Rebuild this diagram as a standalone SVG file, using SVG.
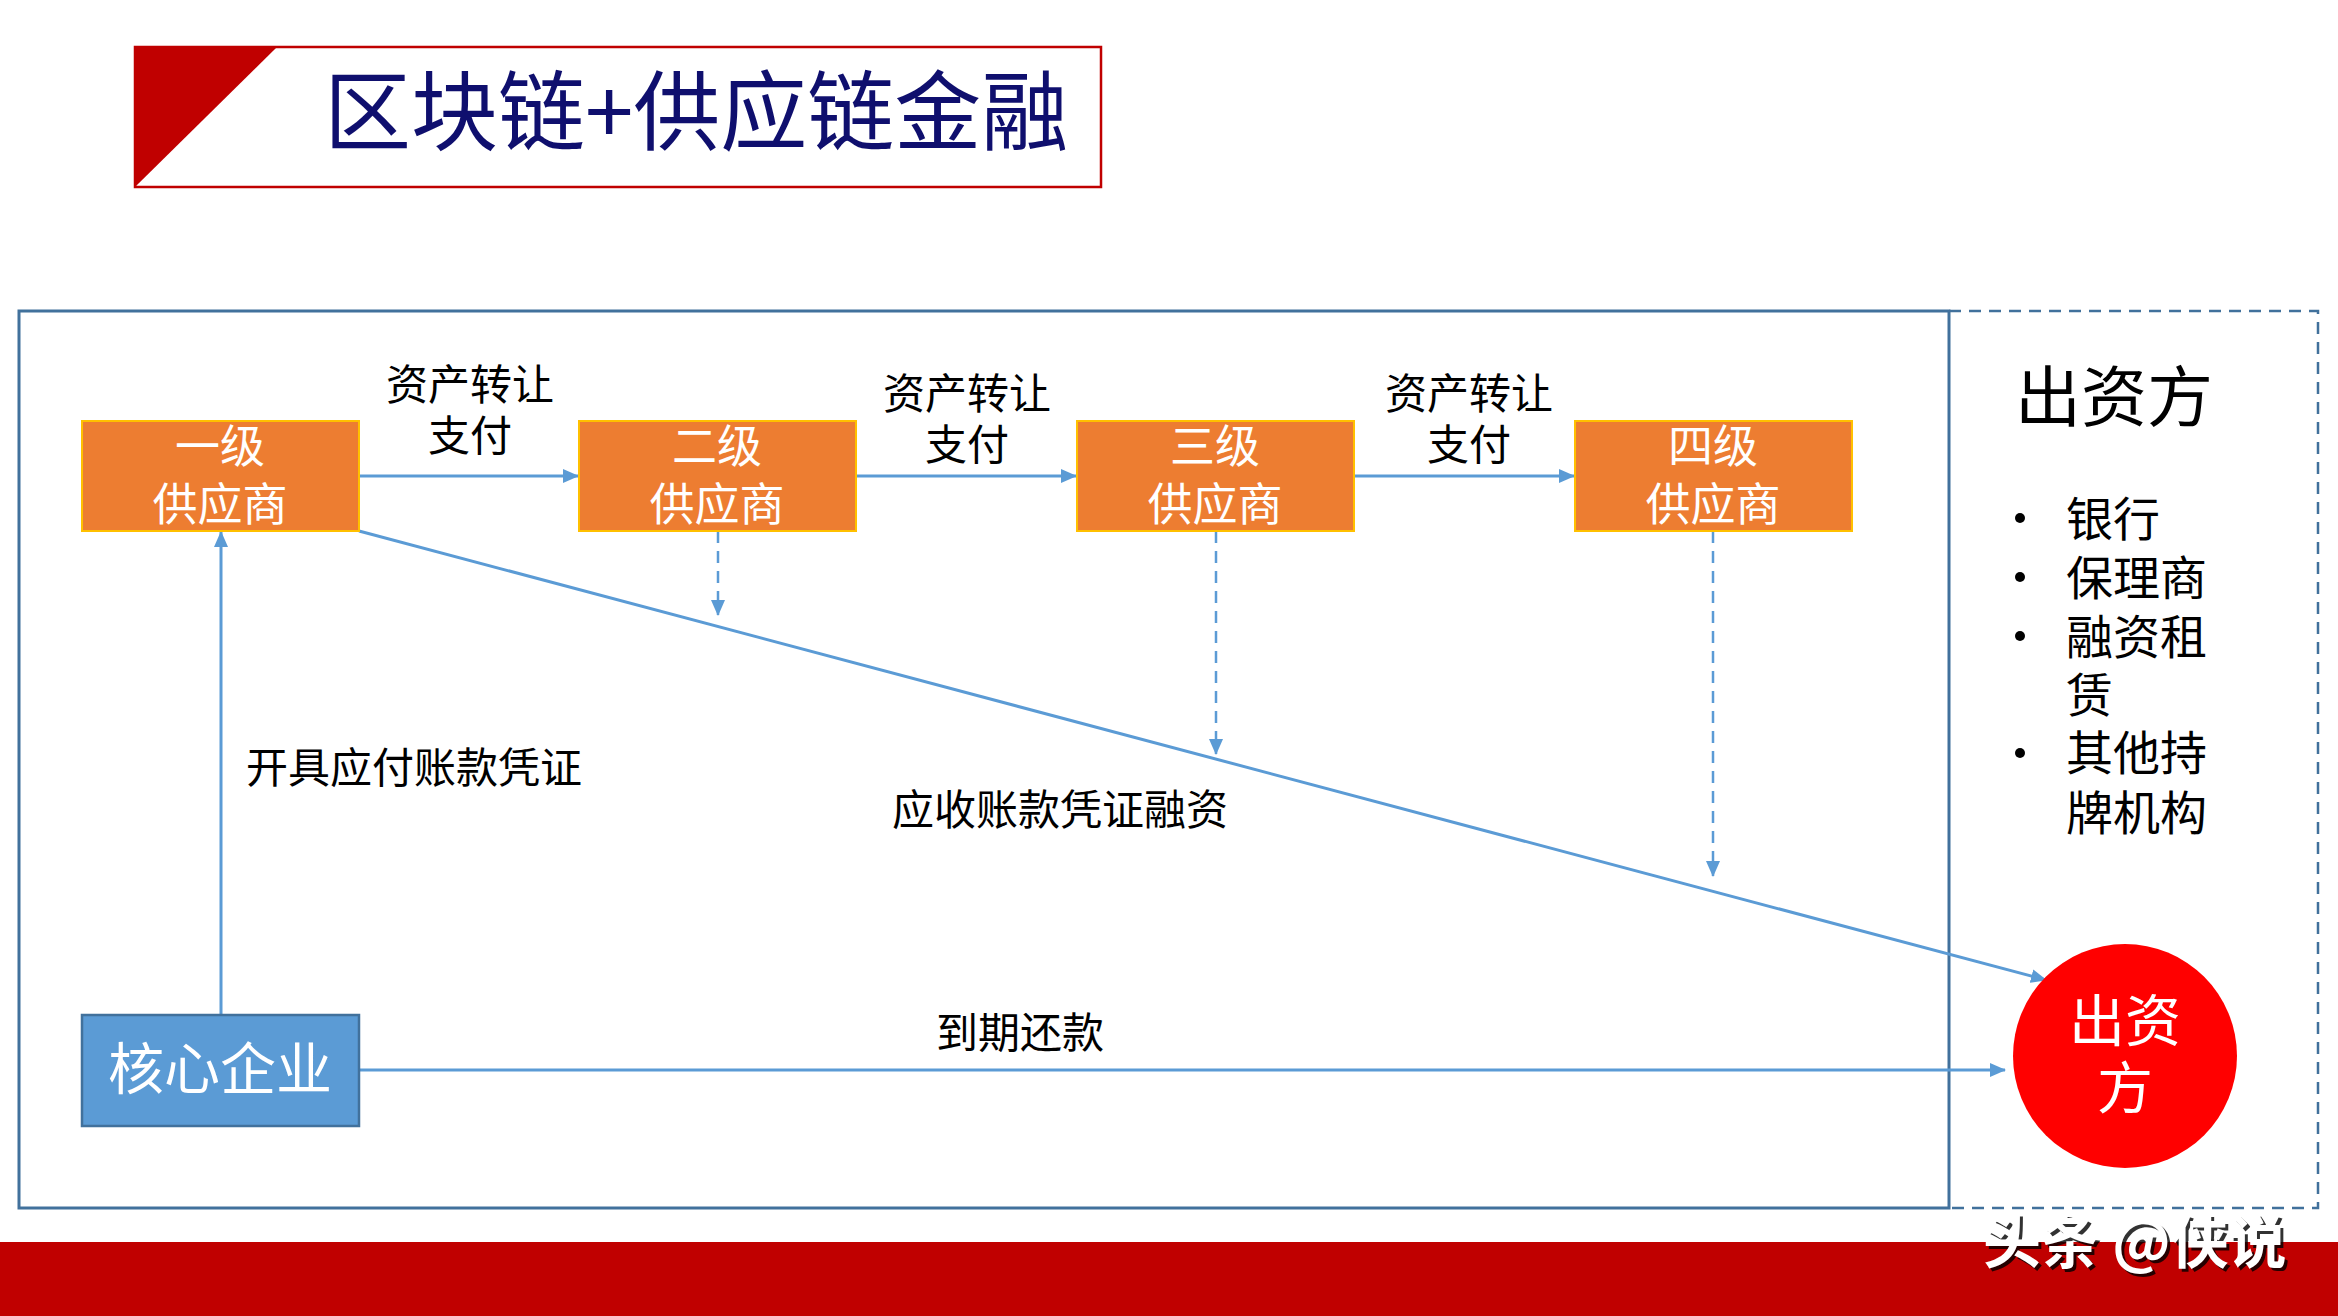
<svg xmlns="http://www.w3.org/2000/svg" width="2338" height="1316" viewBox="0 0 2338 1316">
<defs>
<style>
.t{font-family:"Noto Sans CJK SC","Liberation Sans",sans-serif;}
.box{fill:#ed7d31;stroke:#ffc000;stroke-width:2;}
.wt{fill:#ffffff;font-size:45px;text-anchor:middle;}
.lb{fill:#000000;font-size:42px;text-anchor:middle;}
.con{stroke:#5b9bd5;stroke-width:3;fill:none;}
.dash{stroke:#5b9bd5;stroke-width:2.5;fill:none;stroke-dasharray:12,8;}
</style>
<marker id="ahL" markerWidth="16" markerHeight="16" refX="15" refY="8" orient="auto" markerUnits="userSpaceOnUse" viewBox="0 0 16 16">
<path d="M0,1 L16,8 L0,15 z" fill="#5b9bd5"/>
</marker>
</defs>
<rect width="2338" height="1316" fill="#ffffff"/>

<g id="title">
<rect x="135" y="47" width="966" height="140" fill="#ffffff" stroke="#c00000" stroke-width="2.5"/>
<polygon points="136,48 276,48 136,186" fill="#c00000"/>
<text class="t" x="324" y="144" font-size="87" fill="#0f0f6e">区块链+供应链金融</text>
</g>

<g id="frames">
<rect x="19" y="311" width="1930" height="897" fill="none" stroke="#41719c" stroke-width="3"/>
<path d="M1949,311 H2318 V1208 H1949" fill="none" stroke="#41719c" stroke-width="2.5" stroke-dasharray="12,8"/>
</g>

<g id="connectors">
<line class="con" x1="359" y1="476" x2="578" y2="476" marker-end="url(#ahL)"/>
<line class="con" x1="856" y1="476" x2="1076" y2="476" marker-end="url(#ahL)"/>
<line class="con" x1="1354" y1="476" x2="1574" y2="476" marker-end="url(#ahL)"/>
<line class="dash" x1="718" y1="531" x2="718" y2="615" marker-end="url(#ahL)"/>
<line class="dash" x1="1216" y1="531" x2="1216" y2="754" marker-end="url(#ahL)"/>
<line class="dash" x1="1713" y1="531" x2="1713" y2="876" marker-end="url(#ahL)"/>
<line class="con" x1="359" y1="531" x2="2046" y2="980" marker-end="url(#ahL)"/>
<line class="con" x1="221" y1="1015" x2="221" y2="532" marker-end="url(#ahL)"/>
<line class="con" x1="359" y1="1070" x2="2005" y2="1070" marker-end="url(#ahL)"/>
<text class="t lb" x="470" y="400">资产转让</text>
<text class="t lb" x="470" y="451">支付</text>
<text class="t lb" x="967" y="409">资产转让</text>
<text class="t lb" x="967" y="460">支付</text>
<text class="t lb" x="1469" y="409">资产转让</text>
<text class="t lb" x="1469" y="460">支付</text>
<text class="t lb" x="414" y="783" font-size="43">开具应付账款凭证</text>
<text class="t lb" x="1060" y="825" font-size="43">应收账款凭证融资</text>
<text class="t lb" x="1020" y="1048" font-size="43">到期还款</text>
</g>

<g id="n1">
<rect class="box" x="82" y="421" width="277" height="110"/>
<text class="t wt" x="220" y="463">一级</text>
<text class="t wt" x="220" y="521">供应商</text>
</g>
<g id="n2">
<rect class="box" x="579" y="421" width="277" height="110"/>
<text class="t wt" x="717" y="463">二级</text>
<text class="t wt" x="717" y="521">供应商</text>
</g>
<g id="n3">
<rect class="box" x="1077" y="421" width="277" height="110"/>
<text class="t wt" x="1215" y="463">三级</text>
<text class="t wt" x="1215" y="521">供应商</text>
</g>
<g id="n4">
<rect class="box" x="1575" y="421" width="277" height="110"/>
<text class="t wt" x="1713" y="463">四级</text>
<text class="t wt" x="1713" y="521">供应商</text>
</g>

<g id="core">
<rect x="82" y="1015" width="277" height="111" fill="#5b9bd5" stroke="#41719c" stroke-width="2.5"/>
<text class="t" x="220" y="1089" font-size="56" fill="#ffffff" text-anchor="middle">核心企业</text>
</g>

<g id="funder">
<circle cx="2125" cy="1056" r="112" fill="#ff0000"/>
<text class="t" x="2125" y="1041" font-size="56" fill="#ffffff" text-anchor="middle">出资</text>
<text class="t" x="2125" y="1108" font-size="56" fill="#ffffff" text-anchor="middle">方</text>
</g>

<g id="funder-list">
<text class="t" x="2114" y="421" font-size="66" fill="#000000" text-anchor="middle">出资方</text>
<g fill="#000000">
<circle cx="2020" cy="518" r="5"/>
<circle cx="2020" cy="577" r="5"/>
<circle cx="2020" cy="636" r="5"/>
<circle cx="2020" cy="753" r="5"/>
</g>
<g class="t" font-size="47" fill="#000000">
<text x="2066" y="536">银行</text>
<text x="2066" y="595">保理商</text>
<text x="2066" y="654">融资租</text>
<text x="2066" y="712">赁</text>
<text x="2066" y="770">其他持</text>
<text x="2066" y="830">牌机构</text>
</g>
</g>

<g id="footer">
<rect x="0" y="1242" width="2338" height="74" fill="#c00000"/>
<text class="t" x="1986" y="1266" font-size="58" font-weight="bold" fill="#000000" opacity="0.8">头条 @侠说</text>
<text class="t" x="1983" y="1263" font-size="58" font-weight="bold" fill="#ffffff">头条 @侠说</text>
</g>
</svg>
